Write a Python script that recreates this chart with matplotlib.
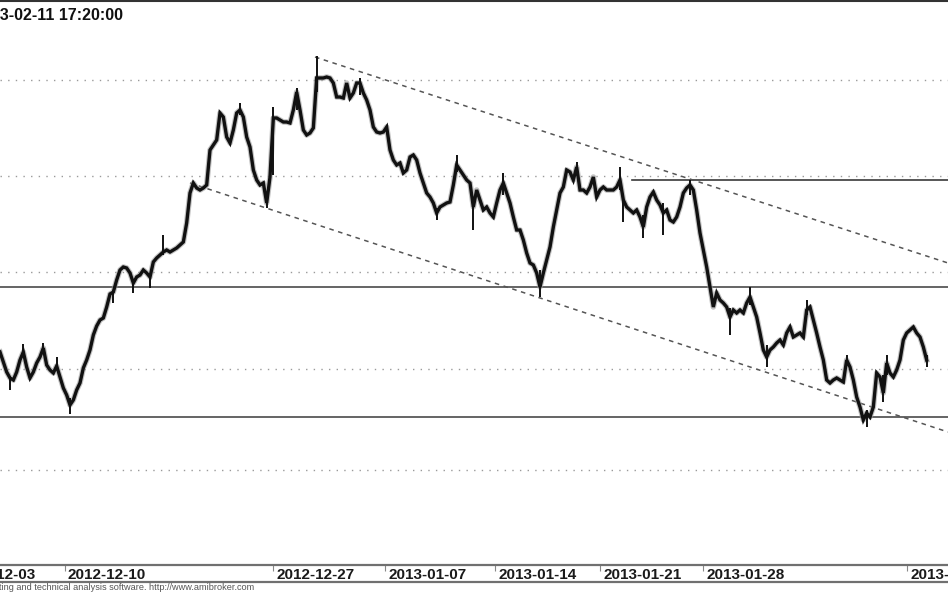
import numpy as np
import matplotlib.pyplot as plt

# price path (one value per bar, arbitrary price units)
close = [
    1248, 1238, 1228, 1222, 1220, 1228, 1240, 1248, 1233, 1222, 1228, 1237,
    1243, 1252, 1235, 1230, 1227, 1234, 1223, 1212, 1205, 1195, 1200, 1210,
    1217, 1232, 1240, 1250, 1265, 1274, 1280, 1282, 1293, 1306, 1308, 1320,
    1330, 1333, 1332, 1327, 1317, 1323, 1325, 1330, 1327, 1323, 1338, 1342,
    1345, 1348, 1350, 1348, 1350, 1352, 1355, 1358, 1377, 1407, 1417, 1412,
    1410, 1412, 1415, 1450, 1455, 1460, 1487, 1483, 1463, 1457, 1470, 1487,
    1490, 1483, 1463, 1453, 1430, 1420, 1415, 1417, 1397, 1423, 1482, 1482,
    1480, 1478, 1478, 1477, 1490, 1508, 1490, 1470, 1465, 1467, 1472, 1522,
    1522, 1522, 1523, 1522, 1517, 1503, 1503, 1502, 1517, 1502, 1507, 1517,
    1517, 1507, 1500, 1490, 1473, 1468, 1467, 1468, 1473, 1450, 1440, 1435,
    1437, 1427, 1430, 1443, 1445, 1440, 1427, 1417, 1407, 1403, 1397, 1387,
    1393, 1395, 1397, 1398, 1415, 1435, 1430, 1425, 1420, 1417, 1393, 1410,
    1400, 1390, 1393, 1387, 1383, 1397, 1410, 1417, 1407, 1397, 1383, 1370,
    1370, 1360, 1347, 1337, 1335, 1327, 1313, 1327, 1340, 1353, 1373, 1390,
    1407, 1413, 1430, 1428, 1420, 1433, 1410, 1410, 1407, 1413, 1423, 1403,
    1410, 1413, 1410, 1410, 1410, 1413, 1420, 1400, 1393, 1390, 1387, 1390,
    1383, 1373, 1393, 1403, 1408, 1400, 1395, 1387, 1390, 1380, 1378, 1383,
    1393, 1407, 1412, 1415, 1410, 1390, 1367, 1350, 1333, 1313, 1293, 1307,
    1300, 1297, 1293, 1283, 1290, 1287, 1290, 1287, 1297, 1303, 1293, 1283,
    1267, 1250, 1243, 1250, 1253, 1257, 1260, 1255, 1267, 1273, 1263, 1265,
    1267, 1263, 1290, 1293, 1280, 1267, 1253, 1240, 1220, 1217, 1220, 1222,
    1220, 1218, 1240, 1233, 1220, 1203, 1193, 1180, 1187, 1183, 1193, 1227,
    1223, 1207, 1237, 1227, 1223, 1230, 1240, 1260, 1267, 1270, 1273, 1267,
    1263, 1253, 1240,
]

# bars with long wicks: bar index, high, low
wick_idx = [3, 7, 13, 17, 21, 34, 40, 45, 49, 72, 80, 82, 89, 95, 108, 131,
            137, 142, 151, 162, 173, 186, 187, 193, 199, 207, 219, 225, 230,
            242, 254, 260, 265, 266, 278]
wick_hi = [1224, 1256, 1257, 1243, 1202, 1310, 1320, 1326, 1365, 1497, 1400,
           1493, 1512, 1544, 1522, 1392, 1445, 1398, 1427, 1330, 1438, 1433,
           1402, 1385, 1397, 1420, 1292, 1313, 1255, 1300, 1245, 1190, 1225,
           1245, 1245]
wick_lo = [1210, 1244, 1247, 1230, 1186, 1297, 1307, 1312, 1345, 1485, 1392,
           1425, 1490, 1508, 1505, 1380, 1428, 1370, 1405, 1303, 1425, 1410,
           1378, 1362, 1365, 1405, 1265, 1295, 1233, 1285, 1235, 1173, 1198,
           1225, 1233]

# horizontal levels
grid_levels = [1520, 1424, 1328, 1231, 1130]
support_levels = [1313, 1183]
resist_start, resist_level = 189.6, 1420

# channel lines: (start bar, start price, end bar, end price)
upper_channel = (94.5, 1543, 284.4, 1337)
lower_channel = (57.0, 1417, 284.4, 1168)

tick_pos = [-13.8, 19.5, 81.9, 115.5, 148.5, 180.0, 211.0, 272.2]
tick_lab = ['2012-12-03', '2012-12-10', '2012-12-27', '2013-01-07',
            '2013-01-14', '2013-01-21', '2013-01-28', '2013-02-11']

W, H = 948, 593
fig = plt.figure(figsize=(W / 100, H / 100), dpi=100)
plt.rcParams['font.family'] = ['Liberation Sans', 'DejaVu Sans']

ax = fig.add_axes([0, (H - 565) / H, 1, (565 - 2) / H])
x = np.arange(len(close))
xmin, xmax = 0, W * 0.3

for g in grid_levels:
    ax.axhline(g, color='#9a9a9a', lw=1.0, ls=(0, (1, 4.5)))
for s in support_levels:
    ax.axhline(s, color='#4a4a4a', lw=1.2)
ax.plot([resist_start, xmax], [resist_level, resist_level], color='#3a3a3a', lw=1.2)

for c in (upper_channel, lower_channel):
    ax.plot([c[0], c[2]], [c[1], c[3]], color='#555555', lw=1.1, ls=(0, (3, 3)))

# soft halo under the bars (jpeg-like blur of the original)
ax.plot(x, close, color='#9a9a9a', lw=4.0, alpha=0.6, solid_joinstyle='round')
ax.vlines(wick_idx, wick_lo, wick_hi, color='#111111', lw=1.4)
ax.plot(x, close, color='#111111', lw=2.4, solid_joinstyle='miter')

ax.set_xlim(xmin, xmax)
ax.set_ylim(1600 - 565, 1600 - 2)
ax.axis('off')

# date strip
ax2 = fig.add_axes([0, (H - 582) / H, 1, 17 / H])
ax2.set_xlim(xmin, xmax)
ax2.set_ylim(0, 1)
ax2.set_yticks([])
ax2.set_xticks([])
for sp in ('left', 'right'):
    ax2.spines[sp].set_visible(False)
for sp in ('top', 'bottom'):
    ax2.spines[sp].set_color('#707070')
    ax2.spines[sp].set_linewidth(1.6)
ax2.vlines(tick_pos, 0.62, 1.0, color='#888888', lw=0.8)
for p, lab in zip(tick_pos, tick_lab):
    ax2.text(p + 0.9, 0.42, lab, fontsize=11, fontweight='bold', color='#1a1a1a',
             ha='left', va='center')

# top border and captions
fig.add_artist(plt.Line2D([0, 1], [1 - 1 / H, 1 - 1 / H], color='#333333', lw=1.5))
fig.text(-27 / W, 1 - 15 / H, '2013-02-11 17:20:00', fontsize=11.5, fontweight='bold',
         color='#111111', ha='left', va='center')
fig.text(-19 / W, 1 - 588 / H,
         'charting and technical analysis software. http://www.amibroker.com',
         fontsize=6.6, color='#555555', ha='left', va='center')

fig.savefig('out.png', dpi=100)
